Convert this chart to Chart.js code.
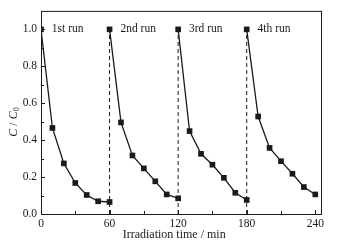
<!DOCTYPE html>
<html>
<head>
<meta charset="utf-8">
<script src="https://cdn.jsdelivr.net/npm/chart.js@4/dist/chart.umd.min.js"></script>
<style>
  html, body { margin: 0; padding: 0; background: #fff; }
  #wrap { width: 355px; height: 246px; }
</style>
</head>
<body>
<div id="wrap"><canvas id="grafico"></canvas></div>
<script>
// datos (tiempo en min, C/C0)
const tiempos = [0, 10, 20, 30, 40, 50, 60];
const corrida1 = [1.0, 0.466, 0.274, 0.168, 0.103, 0.069, 0.065];
const corrida2 = [1.0, 0.496, 0.317, 0.247, 0.177, 0.106, 0.085];
const corrida3 = [1.0, 0.449, 0.326, 0.267, 0.196, 0.115, 0.076];
const corrida4 = [1.0, 0.528, 0.358, 0.286, 0.218, 0.146, 0.106];
const inicios = [0, 60, 120, 180];
const etiquetas = ['1st run', '2nd run', '3rd run', '4th run'];
const xTicks = [0, 60, 120, 180, 240];
const xMenores = [30, 90, 150, 210];
const yTicks = ['0.0', '0.2', '0.4', '0.6', '0.8', '1.0'];
const yMenores = [0.1, 0.3, 0.5, 0.7, 0.9];

const fuente = '"Liberation Serif", "Times New Roman", serif';
const negro = '#1a1a1a';

const corridas = [corrida1, corrida2, corrida3, corrida4];
let datasets = corridas.map((c, i) => ({
  data: c.map((v, j) => ({ x: inicios[i] + tiempos[j], y: v })),
  borderColor: negro,
  backgroundColor: negro,
  borderWidth: 1.3,
  pointStyle: 'rect',
  pointRadius: 4,
  pointBorderWidth: 0,
  tension: 0
}));

// lineas punteadas entre corridas
inicios.slice(1).forEach(t => {
  datasets.push({
    data: [{ x: t, y: 0 }, { x: t, y: 1.0 }],
    borderColor: negro,
    borderWidth: 1,
    borderDash: [4, 3],
    pointRadius: 0
  });
});

const marco = {
  id: 'marco',
  afterDraw(chart) {
    const ctx = chart.ctx;
    const a = chart.chartArea;
    const sx = chart.scales.x, sy = chart.scales.y;
    ctx.save();
    ctx.strokeStyle = negro;
    ctx.lineWidth = 1;
    ctx.strokeRect(a.left + 0.5, a.top + 0.5, a.right - a.left, a.bottom - a.top);
    // ticks hacia adentro
    ctx.beginPath();
    xTicks.concat(xMenores).forEach(v => {
      const px = Math.round(sx.getPixelForValue(v)) + 0.5;
      const largo = xTicks.includes(v) ? 4 : 3;
      ctx.moveTo(px, a.bottom);
      ctx.lineTo(px, a.bottom - largo);
    });
    yTicks.map(Number).concat(yMenores).forEach(v => {
      const py = Math.round(sy.getPixelForValue(v)) + 0.5;
      const largo = yMenores.includes(v) ? 3 : 4;
      ctx.moveTo(a.left, py);
      ctx.lineTo(a.left + largo, py);
    });
    ctx.stroke();

    // etiquetas de corridas
    ctx.fillStyle = negro;
    ctx.font = '11.5px ' + fuente;
    ctx.textBaseline = 'middle';
    ctx.textAlign = 'left';
    inicios.forEach((t, i) => {
      ctx.fillText(etiquetas[i], sx.getPixelForValue(t + 9.5), sy.getPixelForValue(1.0));
    });

    // titulo eje x
    ctx.textAlign = 'center';
    ctx.font = '12px ' + fuente;
    ctx.fillText('Irradiation time / min', (sx.getPixelForValue(0) + sx.getPixelForValue(240)) / 2 - 4, 235);

    // titulo eje y: C / C0
    ctx.translate(14, 122);
    ctx.rotate(-Math.PI / 2);
    ctx.textAlign = 'left';
    const partes = [
      ['C', 'italic 12px ', 0],
      [' / ', '12px ', 0],
      ['C', 'italic 12px ', 0],
      ['0', '8px ', 3]
    ];
    let ancho = 0;
    partes.forEach(p => { ctx.font = p[1] + fuente; ancho += ctx.measureText(p[0]).width; });
    let x0 = -ancho / 2;
    partes.forEach(p => {
      ctx.font = p[1] + fuente;
      ctx.fillText(p[0], x0, p[2]);
      x0 += ctx.measureText(p[0]).width;
    });
    ctx.restore();
  }
};

new Chart(document.getElementById('grafico'), {
  type: 'line',
  data: { datasets },
  options: {
    responsive: true,
    maintainAspectRatio: false,
    animation: false,
    layout: { padding: { left: 0, right: 34, top: 10, bottom: 0 } },
    plugins: { legend: { display: false }, tooltip: { enabled: false } },
    scales: {
      x: {
        type: 'linear',
        min: 0,
        max: 245,
        grid: { display: false, drawTicks: false },
        border: { display: false },
        afterFit: s => { s.height = 32; },
        afterBuildTicks: s => { s.ticks = xTicks.map(v => ({ value: v })); },
        ticks: {
          autoSkip: false,
          maxRotation: 0,
          padding: 3,
          color: negro,
          font: { family: fuente, size: 11.5 },
          callback: v => String(v)
        }
      },
      y: {
        min: 0,
        max: 1.1,
        grid: { display: false, drawTicks: false },
        border: { display: false },
        afterFit: s => { s.width = 41; },
        afterBuildTicks: s => { s.ticks = yTicks.map(v => ({ value: Number(v) })); },
        ticks: {
          autoSkip: false,
          padding: 4,
          color: negro,
          font: { family: fuente, size: 11.5 },
          callback: v => v.toFixed(1)
        }
      }
    }
  },
  plugins: [marco]
});
</script>
</body>
</html>
